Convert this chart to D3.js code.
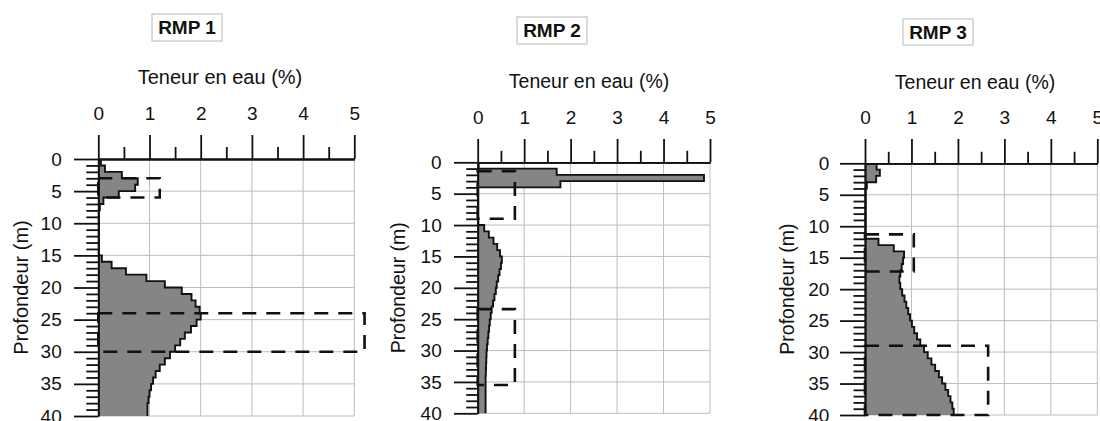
<!DOCTYPE html>
<html><head><meta charset="utf-8">
<script src="https://cdn.jsdelivr.net/npm/d3@7"></script>
<style>
html,body{margin:0;padding:0;background:#fff;}
svg{display:block;font-family:"Liberation Sans",Arial,sans-serif;}
</style></head>
<body>
<svg id="c" width="1100" height="421"></svg>
<script>
// ---- data ----
const panelTitles = ["RMP 1", "RMP 2", "RMP 3"];
const xTitle = "Teneur en eau (%)";
const yTitle = "Profondeur (m)";
const xMajorTicks = [0, 1, 2, 3, 4, 5];
const xMinorTicks = [0.5, 1.5, 2.5, 3.5, 4.5];
const yMajorTicks = [0, 5, 10, 15, 20, 25, 30, 35, 40];
const yMinorTicks = [1,2,3,4,6,7,8,9,11,12,13,14,16,17,18,19,21,22,23,24,26,27,28,29,31,32,33,34,36,37,38,39];
const depthTop = [0,1,2,3,4,5,6,7,8,9,10,11,12,13,14,15,16,17,18,19,20,21,22,23,24,25,26,27,28,29,30,31,32,33,34,35,36,37,38,39];
const rmp1Values = [0.05,0.13,0.46,0.77,0.72,0.40,0.10,0.03,0.01,0.01,0.01,0.01,0.01,0.01,0.01,0.07,0.26,0.54,0.94,1.30,1.63,1.82,1.90,1.98,2.00,1.92,1.81,1.69,1.60,1.50,1.40,1.30,1.20,1.12,1.07,1.03,1.00,0.98,0.96,0.96];
const rmp2Values = [0.02,1.70,4.87,1.78,0.01,0.01,0.01,0.01,0.01,0.01,0.14,0.24,0.34,0.42,0.48,0.52,0.50,0.47,0.44,0.41,0.39,0.36,0.33,0.30,0.28,0.26,0.245,0.23,0.215,0.20,0.19,0.185,0.18,0.175,0.17,0.17,0.17,0.17,0.17,0.17];
const rmp3Values = [0.25,0.32,0.24,0.04,0.01,0.01,0.01,0.01,0.01,0.01,0.01,0.01,0.29,0.62,0.84,0.82,0.79,0.76,0.74,0.76,0.80,0.85,0.89,0.93,0.97,1.01,1.06,1.12,1.19,1.27,1.35,1.43,1.51,1.59,1.66,1.73,1.79,1.84,1.88,1.91];
// dashed boxes: [top depth, bottom depth, right value]
const rmp1Boxes = [[3, 6, 1.2], [24, 30, 5.2]];
const rmp2Boxes = [[1.4, 9, 0.8], [23.4, 35.5, 0.8]];
const rmp3Boxes = [[11.3, 17.2, 1.05], [29, 40, 2.65]];

// ---- layout ----
const layouts = [
  {x0:98.3, x5:354.3, y0:159, y40:416, tMaj:24, tMin:12, yMaj:24.3, yMin:12, xPad:15.5, yPad:12.3, xtX:220, xtY:84, ytX:21, boxX:152, boxY:14, boxW:70, boxH:27, fs:20},
  {x0:477.7, x5:710, y0:162.3, y40:413.3, tMaj:23.3, tMin:11.5, yMaj:23.7, yMin:11.5, xPad:15.3, yPad:12.3, xtX:589, xtY:88, ytX:398, boxX:517, boxY:17, boxW:70, boxH:27, fs:19.5},
  {x0:865, x5:1097.3, y0:163.3, y40:415, tMaj:24.3, tMin:11.5, yMaj:25, yMin:11.5, xPad:15, yPad:10.7, xtX:975, xtY:89, ytX:787, boxX:903, boxY:19, boxW:70, boxH:26, fs:19.5}
];
const allValues = [rmp1Values, rmp2Values, rmp3Values];
const allBoxes = [rmp1Boxes, rmp2Boxes, rmp3Boxes];

const svg = d3.select("#c");
svg.append("rect").attr("width",1100).attr("height",421).attr("fill","#fff");

layouts.forEach((L, i) => {
  const x = d3.scaleLinear().domain([0,5]).range([L.x0, L.x5]);
  const y = d3.scaleLinear().domain([0,40]).range([L.y0, L.y40]);
  const g = svg.append("g");

  // grid
  g.append("g").selectAll("line").data(xMajorTicks.slice(1)).join("line")
    .attr("x1", d=>x(d)).attr("x2", d=>x(d)).attr("y1", y(0)).attr("y2", y(40))
    .attr("stroke","#bdbdbd").attr("stroke-width",1);
  g.append("g").selectAll("line").data(yMajorTicks.slice(1)).join("line")
    .attr("x1", x(0)).attr("x2", x(5)).attr("y1", d=>y(d)).attr("y2", d=>y(d))
    .attr("stroke","#bdbdbd").attr("stroke-width",1);

  // profile
  const pts = [];
  depthTop.forEach((d, k) => { pts.push([allValues[i][k], d]); pts.push([allValues[i][k], d+1]); });
  const area = d3.area().y(p=>y(p[1])).x0(x(0)).x1(p=>x(p[0]));
  g.append("path").datum(pts).attr("d", area).attr("fill","#858585");
  const line = d3.line().x(p=>x(p[0])).y(p=>y(p[1]));
  g.append("path").datum(pts).attr("d", line).attr("fill","none").attr("stroke","#111").attr("stroke-width",1.9);

  // axes
  const xMaj = d3.axisTop(x).tickValues(xMajorTicks).tickSize(L.tMaj).tickSizeOuter(0).tickPadding(L.xPad).tickFormat(d3.format("d"));
  const xMin = d3.axisTop(x).tickValues(xMinorTicks).tickSize(L.tMin).tickSizeOuter(0).tickFormat("");
  const yMaj = d3.axisLeft(y).tickValues(yMajorTicks).tickSize(L.yMaj).tickSizeOuter(0).tickPadding(L.yPad).tickFormat(d3.format("d"));
  const yMin = d3.axisLeft(y).tickValues(yMinorTicks).tickSize(L.yMin).tickSizeOuter(0).tickFormat("");
  [[xMaj,"x"],[xMin,"x"],[yMaj,"y"],[yMin,"y"]].forEach(([ax, k]) => {
    const a = g.append("g").attr("transform", k==="x" ? `translate(0,${L.y0})` : `translate(${L.x0},0)`).call(ax);
    a.selectAll("path,line").attr("stroke","#111").attr("stroke-width",1.8);
    a.selectAll("text").attr("fill","#111").attr("font-size",19).attr("font-family","Liberation Sans, Arial, sans-serif");
  });

  // dashed boxes
  g.append("g").selectAll("rect").data(allBoxes[i]).join("rect")
    .attr("x", x(0)).attr("y", b=>y(b[0]))
    .attr("width", b=>x(b[2])-x(0)).attr("height", b=>y(b[1])-y(b[0]))
    .attr("fill","none").attr("stroke","#111").attr("stroke-width",2.6)
    .attr("stroke-dasharray","14,10");

  // axis titles
  g.append("text").attr("x", L.xtX).attr("y", L.xtY).attr("text-anchor","middle")
    .attr("font-size", L.fs).attr("fill","#111").text(xTitle);
  g.append("text").attr("transform", `translate(${L.ytX},${(L.y0+L.y40)/2}) rotate(-90)`)
    .attr("text-anchor","middle").attr("dy","0.35em")
    .attr("font-size", L.fs).attr("fill","#111").text(yTitle);

  // title box
  g.append("rect").attr("x", L.boxX).attr("y", L.boxY).attr("width", L.boxW).attr("height", L.boxH)
    .attr("fill","#fff").attr("stroke","#c4c4c4").attr("stroke-width",1.2);
  g.append("text").attr("x", L.boxX + L.boxW/2).attr("y", L.boxY + L.boxH/2).attr("dy","0.36em")
    .attr("text-anchor","middle").attr("font-weight","bold").attr("font-size",19).attr("fill","#111")
    .text(panelTitles[i]);
});
</script>
</body></html>
